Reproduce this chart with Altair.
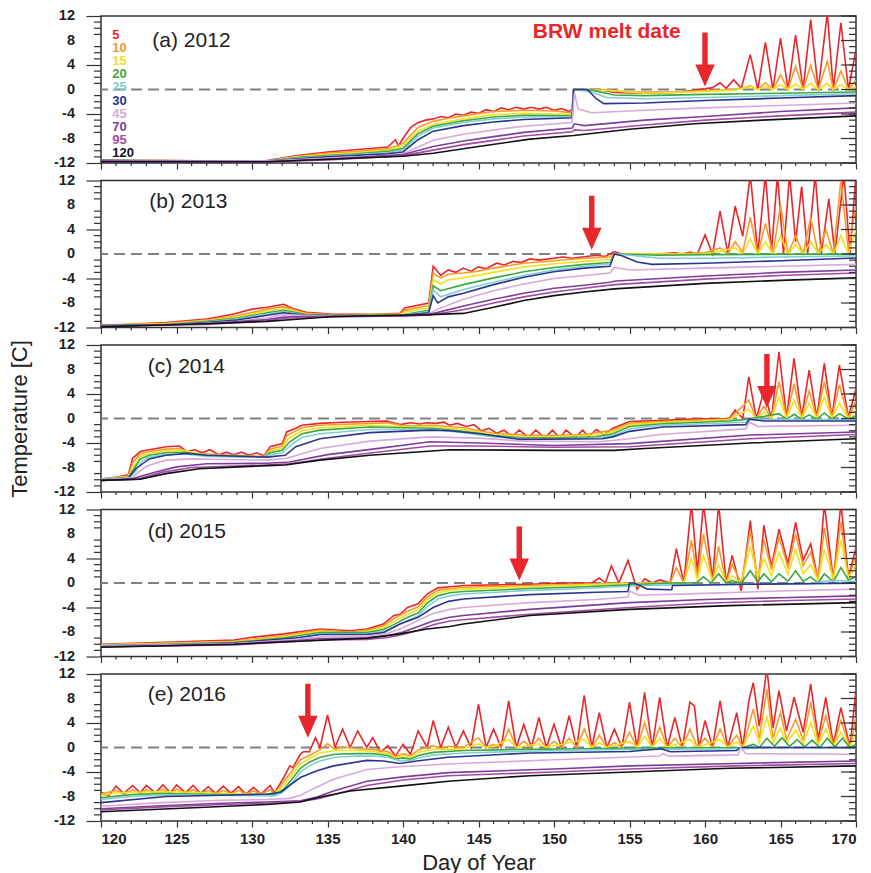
import altair as alt
import pandas as pd

DEPTHS = ["5", "10", "15", "20", "25", "30", "45", "70", "95", "120"]
COLORS = ["#e8262b", "#f89a2c", "#f2e11e", "#3aa93f", "#7dcfd4",
          "#2b3590", "#d9a8dc", "#7b3f9b", "#a44aa5", "#111111"]
PANEL_LABELS = ["(a) 2012", "(b) 2013", "(c) 2014", "(d) 2015", "(e) 2016"]
MELT_DAY = [160.0, 152.5, 164.1, 147.7, 133.7]
MELT_TIP = [0.5, 0.7, 1.7, 0.4, 1.6]
DAY_TICKS = list(range(120, 171))
TEMP_TICKS = list(range(-12, 13))

# ---------------- 2012 ----------------
A05 = [(120,-11.5),(122,-11.6),(125,-11.6),(128,-11.7),(131,-11.6),(132,-11.2),(133,-10.8),(134,-10.5),(135,-10.2),(136,-10.0),(137,-9.8),(138,-9.6),(139,-9.4),(139.5,-8.2),(139.7,-9.2),(140,-8.0),(140.5,-6.2),(141,-5.4),(141.5,-5.0),(142,-4.8),(142.5,-4.4),(143,-4.6),(143.5,-4.0),(144,-4.2),(144.5,-3.7),(145,-3.9),(145.5,-3.3),(146,-3.6),(146.5,-3.0),(147,-3.3),(147.5,-2.9),(148,-3.2),(148.5,-2.9),(149,-3.2),(149.5,-2.9),(150,-3.4),(150.5,-3.1),(151,-3.6),(151.2,-3.2),(151.3,0),(153,0),(154,-0.5),(156,-0.6),(158,-0.5),(159,-0.2),(160,0.1),(160.5,0.3),(161,1.1),(161.4,0.2),(161.9,1.6),(162.4,0.2),(163,5.7),(163.5,0),(164,7.7),(164.5,0),(165,8.4),(165.5,0),(166,8.9),(166.5,0),(167,11.4),(167.5,0),(168.1,12.5),(168.5,0),(169,10.9),(169.5,0),(170,6.5)]
A10 = [(120,-11.6),(131,-11.7),(133,-10.9),(135,-10.4),(137,-10.1),(139,-9.7),(140,-8.8),(141,-6.2),(142,-5.2),(143,-4.7),(144,-4.3),(146,-3.6),(148,-3.4),(150,-3.5),(151.2,-3.8),(151.3,0),(153.5,-0.1),(155,-0.4),(158,-0.4),(160,-0.2),(162,0),(163,0.6),(163.5,0),(164,1.1),(164.5,0),(165,2.4),(165.5,0),(166,3.8),(166.5,0),(167,4.0),(167.5,0),(168.1,4.6),(168.5,0),(169,3.0),(169.5,0),(170,1.5)]
A15 = [(120,-11.6),(131,-11.7),(133,-11.0),(135,-10.6),(137,-10.3),(139,-9.9),(140,-9.2),(141,-6.8),(142,-5.7),(144,-4.8),(146,-4.1),(148,-3.9),(150,-4.0),(151.2,-4.05),(151.3,0),(154,-0.2),(156,-0.6),(158,-0.5),(160,-0.3),(162,-0.1),(163,0.5),(163.5,0),(164,0.5),(164.5,0),(165,0.8),(165.5,0),(166,0.9),(166.5,0),(167,1.0),(167.5,0),(168.1,1.0),(168.5,0),(169,0.8),(169.5,0),(170,0.4)]
A20 = [(120,-11.6),(131,-11.7),(133,-11.1),(135,-10.8),(137,-10.5),(139,-10.1),(140,-9.6),(141,-7.2),(142,-6.0),(144,-5.1),(146,-4.5),(148,-4.2),(151.2,-4.3),(151.3,0),(152.5,-0.1),(154,-0.9),(156,-1.0),(160,-0.8),(165,-0.6),(170,-0.4)]
A25 = [(120,-11.6),(131,-11.7),(133,-11.2),(135,-10.9),(139,-10.3),(140,-9.9),(141,-7.6),(142,-6.3),(144,-5.4),(146,-4.8),(148,-4.5),(151.2,-4.4),(151.3,0),(152.3,-0.3),(153.5,-1.3),(156,-1.5),(160,-1.3),(165,-1.0),(170,-0.7)]
A30 = [(120,-11.6),(131,-11.7),(133,-11.3),(135,-11.0),(139,-10.5),(140,-10.2),(141,-8.2),(142,-6.8),(144,-5.9),(146,-5.3),(148,-4.9),(151.2,-4.6),(151.3,0),(152.2,0),(152.8,-1.5),(153.3,-2.3),(156,-2.2),(160,-1.8),(165,-1.4),(170,-1.0)]
A45 = [(120,-11.7),(131,-11.7),(135,-11.2),(139,-10.8),(140,-10.5),(141,-9.4),(142,-8.3),(144,-7.3),(146,-6.6),(148,-6.0),(151.2,-5.4),(151.35,-0.5),(151.6,-3.2),(152.5,-3.8),(156,-3.4),(160,-3.0),(165,-2.6),(170,-2.2)]
A70 = [(120,-11.7),(131,-11.8),(135,-11.4),(140,-10.6),(142,-9.3),(144,-8.4),(146,-7.7),(148,-7.0),(151.2,-6.3),(151.35,-5.6),(152,-5.9),(156,-5.0),(160,-4.4),(165,-3.6),(170,-3.0)]
A95 = [(120,-11.8),(131,-11.8),(135,-11.5),(140,-10.8),(142,-9.9),(144,-9.0),(146,-8.3),(148,-7.6),(151.2,-6.9),(151.35,-6.6),(152,-6.7),(156,-5.8),(160,-5.0),(165,-4.3),(170,-3.7)]
A120 = [(120,-11.8),(131,-11.8),(135,-11.4),(140,-10.9),(142,-10.4),(145,-9.3),(148.4,-8.1),(151.3,-7.5),(155,-6.5),(159.3,-5.6),(163.8,-5.0),(170,-4.3)]

# ---------------- 2013 ----------------
B05 = [(120,-11.5),(121,-11.6),(122.5,-11.4),(124.3,-11.2),(127,-10.6),(128.8,-9.8),(130,-9.0),(131,-8.7),(132.1,-8.2),(132.7,-8.9),(133.6,-9.5),(135.2,-9.8),(138,-9.9),(139.8,-9.7),(140.1,-8.8),(141.7,-8.0),(142,-2.0),(142.5,-3.5),(143,-2.6),(143.5,-3.0),(144,-2.3),(144.5,-2.8),(145,-2.1),(145.5,-2.4),(146.2,-1.5),(146.7,-1.8),(147.3,-1.2),(147.8,-1.4),(148.4,-0.8),(149,-1.0),(150.6,-0.5),(151.2,-0.7),(152.8,-0.2),(153.4,-0.4),(154,0.4),(154.5,0),(157,0),(158,0.2),(158.5,0),(159,0.3),(159.5,0),(160,3.1),(160.5,0),(161,7.0),(161.5,0.2),(162,7.8),(162.5,2.9),(163,13),(163.5,0),(164,13),(164.4,0.3),(164.8,13),(165.2,0),(165.6,13),(166,2),(166.4,11),(166.8,0),(167.3,13),(167.7,0),(168.2,9),(168.6,0),(169.2,13),(169.6,0),(170,13)]
B10 = [(120,-11.6),(124.3,-11.3),(127,-10.8),(129,-10.1),(131,-9.0),(132.1,-8.6),(133.6,-9.7),(135.2,-9.9),(139.8,-9.8),(140.1,-9.2),(141.7,-8.4),(142,-3.2),(142.5,-3.9),(143,-3.3),(144,-3.1),(145,-2.8),(146,-2.3),(148,-1.5),(150,-1.1),(152,-0.7),(153.7,-0.5),(154,0),(158,0),(160,0.2),(161,1.0),(161.5,0),(162,2.0),(162.5,0.3),(163,6.0),(163.5,0),(164,5.0),(164.5,0),(165,8.0),(165.5,0),(166,3.0),(166.5,0),(167,6.0),(167.5,0),(168,4.0),(168.5,0),(169,12.0),(169.5,0.5),(170,8.0)]
B15 = [(120,-11.6),(124.3,-11.4),(127,-10.9),(129,-10.3),(131,-9.3),(132.1,-8.9),(133.6,-9.8),(135.2,-10.0),(139.8,-9.9),(140.1,-9.5),(141.7,-8.8),(142,-4.2),(142.5,-4.9),(143,-4.2),(144,-3.9),(146,-3.0),(148,-2.1),(150,-1.6),(152,-1.2),(153.7,-0.9),(154,0),(160,0),(162,1.0),(162.5,0),(163,2.5),(163.5,0),(164,2.0),(164.5,0),(165,3.0),(165.5,0),(166,1.5),(166.5,0),(167,2.0),(167.5,0),(168,1.5),(168.5,0),(169,3.0),(169.5,0),(170,4.0)]
B20 = [(120,-11.7),(124.3,-11.5),(127,-11.0),(129,-10.5),(131,-9.6),(132.1,-9.2),(133.6,-9.9),(135.2,-10.0),(139.8,-10.0),(141.7,-9.2),(142,-5.2),(142.5,-6.0),(144,-5.0),(146,-3.9),(148,-2.9),(150,-2.2),(152,-1.7),(153.7,-1.4),(154,0),(157,-0.2),(160,-0.1),(170,0)]
B25 = [(120,-11.7),(124.3,-11.5),(127,-11.1),(129,-10.6),(131,-9.8),(132.1,-9.4),(133.6,-10.0),(139.8,-10.1),(141.7,-9.4),(142,-5.9),(142.5,-7.0),(144,-5.8),(146,-4.6),(148,-3.5),(150,-2.6),(152,-2.0),(153.7,-1.6),(154,0),(155,-0.2),(157,-0.7),(160,-0.7),(165,-0.5),(170,-0.3)]
B30 = [(120,-11.7),(124.3,-11.6),(127,-11.2),(129,-10.8),(131,-10.0),(132.1,-9.6),(133.6,-10.0),(139.8,-10.1),(141.7,-9.6),(142,-6.8),(142.3,-8.0),(143,-7.0),(144,-6.4),(146,-5.0),(148,-3.8),(150,-2.9),(152,-2.3),(153.7,-2.0),(154,0),(154.5,-0.3),(155.5,-1.3),(156.5,-1.7),(160,-1.5),(165,-1.1),(170,-0.65)]
B45 = [(120,-11.8),(124.3,-11.6),(127,-11.3),(129,-11.0),(131,-10.4),(132.1,-9.9),(134,-10.1),(139.8,-10.1),(141.7,-9.8),(142.3,-9.0),(144,-7.4),(146,-6.0),(148,-4.9),(150,-4.0),(152,-3.5),(153.7,-3.1),(154,-2.2),(155,-2.6),(160,-2.3),(165,-2.0),(170,-1.7)]
B70 = [(120,-11.8),(127,-11.4),(131,-10.7),(132.1,-10.3),(134,-10.2),(139.8,-10.1),(141.7,-9.9),(144,-8.5),(146,-7.4),(148,-6.4),(150,-5.6),(152,-5.1),(153.7,-4.6),(154.1,-4.4),(160,-3.6),(165,-3.0),(170,-2.6)]
B95 = [(120,-11.8),(127,-11.5),(131,-10.9),(132.1,-10.5),(134,-10.3),(139.8,-10.1),(141.7,-10.0),(144,-9.1),(146,-8.0),(148,-7.0),(150,-6.2),(152,-5.6),(154,-5.0),(160,-4.1),(165,-3.5),(170,-3.1)]
B120 = [(120,-11.9),(124,-11.6),(127,-11.4),(131,-11.0),(133.2,-10.6),(135.4,-10.2),(139.8,-10.0),(141.8,-9.9),(144,-9.7),(146,-8.7),(148,-7.6),(150,-6.8),(152,-6.2),(154,-5.7),(160,-4.8),(165,-4.3),(170,-3.9)]

# ---------------- 2014 ----------------
C05 = [(120,-9.9),(121,-9.6),(121.8,-9.2),(122.1,-6.5),(122.6,-5.4),(123.2,-5.1),(124.3,-4.6),(125.2,-4.5),(125.7,-5.4),(126.2,-5.1),(126.7,-5.6),(127.2,-5.1),(127.8,-5.9),(128.3,-5.5),(128.8,-5.9),(129.3,-5.5),(129.8,-6.0),(130.3,-5.6),(130.8,-6.1),(131.2,-4.6),(132,-4.1),(132.3,-2.2),(132.9,-1.6),(133.3,-1.1),(134.5,-0.8),(136,-0.6),(137.8,-0.5),(138.9,-0.4),(139.8,-1.0),(140.5,-0.7),(141.1,-0.9),(141.6,-0.7),(142.2,-0.8),(142.7,-0.6),(143.1,-1.1),(143.6,-0.8),(144.2,-1.3),(144.7,-1.0),(145.2,-2.0),(145.7,-1.6),(146.2,-2.4),(146.7,-1.9),(147.2,-3.0),(147.7,-1.9),(148.3,-3.1),(148.8,-1.9),(149.4,-3.2),(149.9,-1.9),(150.4,-3.2),(150.8,-1.9),(151.4,-3.1),(151.9,-1.9),(152.3,-3.0),(152.8,-1.8),(153.3,-2.6),(153.9,-1.6),(155,-0.5),(157.2,-0.3),(159,-0.1),(161.6,0),(162,1.4),(162.5,0),(162.9,6.8),(163.4,0),(163.9,4.5),(164.4,0),(164.9,10.9),(165.4,0.2),(165.9,9.8),(166.4,0.2),(166.9,7.9),(167.4,0.2),(167.9,9.0),(168.4,0.2),(168.9,8.7),(169.5,0.2),(170,4.9)]
C10 = [(120,-9.9),(121.8,-9.4),(122.1,-7.2),(122.6,-5.8),(123.2,-5.4),(124.3,-5.0),(125.2,-4.9),(125.7,-5.6),(127,-5.8),(128.8,-6.0),(130.8,-6.2),(131.2,-5.0),(132,-4.5),(132.3,-2.8),(133.3,-1.5),(134.5,-1.1),(137.8,-0.8),(139,-0.7),(140,-1.2),(142,-1.1),(144,-1.5),(146,-2.4),(148,-2.7),(150,-2.8),(152,-2.6),(153.9,-1.9),(155,-0.8),(157,-0.5),(161.6,-0.1),(162.9,3.0),(163.4,0),(163.9,2.0),(164.4,0),(164.9,6.0),(165.4,0.1),(165.9,5.7),(166.4,0.1),(166.9,4.5),(167.4,0.1),(167.9,6.0),(168.4,0.1),(168.9,5.5),(169.5,0.1),(170,3.0)]
C15 = [(120,-9.9),(121.8,-9.5),(122.2,-7.8),(122.6,-6.2),(123.2,-5.7),(124.3,-5.3),(125.5,-5.2),(127,-6.0),(130.8,-6.3),(131.2,-5.3),(132,-4.9),(132.4,-3.3),(133.3,-2.0),(134.5,-1.5),(137.8,-1.1),(140,-1.3),(142,-1.3),(144,-1.8),(146,-2.6),(148,-3.0),(150,-3.0),(152.8,-2.7),(153.9,-2.2),(155,-1.0),(157,-0.7),(161.6,-0.2),(162.9,1.5),(163.4,0),(163.9,1.0),(164.4,0),(164.9,3.5),(165.4,0),(165.9,3.0),(166.4,0),(166.9,2.5),(167.4,0),(167.9,3.5),(168.4,0),(168.9,2.5),(169.5,0),(170,1.5)]
C20 = [(120,-9.9),(121.8,-9.6),(122.2,-8.2),(122.6,-6.6),(123.2,-6.0),(124.3,-5.6),(125.5,-5.5),(127,-6.1),(130.8,-6.3),(131.2,-5.6),(132,-5.2),(132.5,-3.8),(133.3,-2.5),(134.5,-1.9),(137.8,-1.4),(140,-1.5),(142,-1.6),(144,-2.1),(146,-2.8),(148,-3.2),(150,-3.2),(152.8,-3.0),(153.9,-2.5),(155,-1.3),(157,-0.9),(161.6,-0.4),(162.9,-0.1),(164.9,0.8),(165.4,-0.1),(165.9,0.7),(166.4,-0.1),(166.9,0.6),(167.4,-0.1),(167.9,0.9),(168.4,-0.1),(168.9,0.8),(169.5,-0.1),(170,0.5)]
C25 = [(120,-9.9),(121.8,-9.7),(122.3,-8.6),(122.7,-7.0),(123.2,-6.3),(124.3,-5.9),(125.5,-5.8),(127,-6.2),(130.8,-6.3),(131.2,-5.9),(132,-5.6),(132.6,-4.3),(133.3,-3.1),(134.5,-2.5),(137.8,-1.8),(140,-1.8),(142,-1.8),(144,-2.3),(146,-3.0),(148,-3.3),(150,-3.3),(152.8,-3.2),(153.9,-2.8),(155,-1.7),(157,-1.1),(162.7,-0.6),(163,-0.1),(170,-0.2)]
C30 = [(120,-10.0),(121.8,-9.8),(122.3,-8.2),(123.2,-6.6),(124.3,-6.0),(125.7,-5.7),(127,-6.0),(131,-6.3),(132.2,-6.0),(132.9,-4.6),(134.5,-3.3),(137.8,-2.3),(141.8,-1.9),(143.1,-2.0),(145.1,-2.5),(147.7,-3.4),(153.2,-3.3),(153.9,-3.0),(155,-2.1),(157.2,-1.4),(162.7,-1.0),(162.95,-0.1),(163.9,-0.4),(170,-0.4)]
C45 = [(120,-10.0),(122,-9.7),(123,-7.8),(124.3,-6.8),(126,-6.6),(128,-6.7),(131,-6.8),(132.3,-6.5),(134.5,-4.9),(137.8,-3.7),(141.8,-3.0),(145,-3.2),(148,-3.7),(153,-3.8),(155,-3.3),(157,-2.6),(162.7,-1.7),(162.95,-0.6),(163.5,-1.3),(170,-1.1)]
C70 = [(120,-10.1),(122,-9.9),(123.5,-8.8),(125,-7.9),(127,-7.4),(131,-7.3),(132.5,-7.1),(135,-5.9),(138,-5.0),(141.8,-3.8),(145,-4.0),(150,-4.4),(155,-4.1),(163,-2.7),(170,-2.2)]
C95 = [(120,-10.1),(122.5,-9.9),(124,-8.8),(126,-8.0),(131,-7.6),(132.5,-7.4),(135,-6.5),(138,-5.6),(141.8,-4.5),(145,-4.5),(150,-4.7),(155,-4.6),(163,-3.3),(170,-2.6)]
C120 = [(120,-10.1),(122.6,-9.9),(124.3,-9.0),(126.5,-8.2),(131,-7.7),(132.2,-7.6),(134.5,-6.8),(137.8,-6.0),(143.1,-5.1),(150,-5.2),(154,-5.2),(156,-4.9),(163,-4.0),(170,-3.3)]

# ---------------- 2015 ----------------
D05 = [(120,-10.0),(124.3,-9.7),(128.8,-9.3),(129.9,-8.9),(132.1,-8.3),(134.5,-7.5),(136.5,-7.8),(137.6,-7.5),(138.7,-6.7),(139.4,-5.3),(139.8,-5.1),(140.3,-4.0),(141,-3.4),(141.6,-1.8),(142.3,-0.8),(143.1,-0.6),(144,-0.4),(148.4,-0.2),(150.6,0),(152.5,0),(153,0.8),(153.4,0),(153.8,2.8),(154.3,0),(154.9,3.7),(155.5,-1.0),(156,0.7),(156.5,0),(157,0.5),(157.7,0),(158.1,5.6),(158.6,0),(159.1,13),(159.5,1.7),(159.9,13),(160.5,0.5),(160.9,13),(161.4,0.1),(161.8,4.5),(162.4,-1.3),(163,10.2),(163.5,-1.0),(163.9,9.4),(164.4,2.6),(164.9,8.8),(165.5,3.1),(166,9.9),(166.5,3.7),(167,6.4),(167.5,0.4),(167.9,13),(168.5,0.4),(169,13),(169.5,0.9),(170,5.8)]
D10 = [(120,-10.1),(124.3,-9.8),(128.8,-9.5),(132.1,-8.6),(134.5,-7.7),(136.5,-8.0),(137.6,-7.7),(138.7,-7.0),(139.4,-5.8),(140.3,-4.6),(141,-3.9),(141.6,-2.3),(142.3,-1.2),(143.1,-0.9),(144,-0.7),(148.4,-0.4),(152,-0.2),(155,0),(157.7,0),(158.1,2.5),(158.6,0),(159.1,7),(159.5,1),(159.9,8),(160.5,0.3),(160.9,6),(161.4,0),(161.8,3),(162.4,0),(163,8.5),(163.5,0.5),(163.9,7),(164.4,2.2),(164.9,7.5),(165.5,2.5),(166,8),(166.5,2.8),(167,5),(167.5,0.5),(167.9,9),(168.5,0.5),(169,10),(169.5,0.8),(170,4.5)]
D15 = [(120,-10.1),(124.3,-9.9),(128.8,-9.6),(132.1,-8.8),(134.5,-7.9),(136.5,-8.2),(137.6,-7.9),(138.7,-7.3),(139.4,-6.3),(140.3,-5.1),(141,-4.4),(141.6,-2.8),(142.3,-1.6),(143.1,-1.2),(144,-1.0),(148.4,-0.6),(152,-0.3),(155,-0.1),(158.6,0),(159.1,4),(159.5,0.5),(159.9,4.5),(160.5,0.3),(160.9,3),(161.4,0),(161.8,1.2),(162.4,0),(163,6),(163.5,0.8),(163.9,4),(164.4,1.2),(164.9,5),(165.5,1.4),(166,5.5),(166.5,1.5),(167,3),(167.5,0.4),(167.9,5.5),(168.5,0.6),(169,7),(169.5,0.8),(170,3)]
D20 = [(120,-10.2),(124.3,-10.0),(128.8,-9.7),(132.1,-9.0),(134.5,-8.1),(137.6,-8.1),(138.7,-7.6),(139.4,-6.8),(140.3,-5.6),(141,-4.9),(141.6,-3.3),(142.3,-2.1),(143.1,-1.6),(144,-1.4),(148.4,-0.9),(152,-0.6),(155,-0.3),(157.8,0),(159.4,0),(159.9,1.0),(160.4,0),(160.9,1.5),(161.4,0),(161.8,0.4),(162.4,0),(163,2.0),(163.5,0.2),(163.9,1.5),(164.4,0.2),(164.9,1.5),(165.5,0.3),(166,2.0),(166.5,0.3),(167,1.0),(167.5,0),(167.9,1.5),(168.5,0.2),(169,2.5),(169.5,0.5),(170,1.0)]
D25 = [(120,-10.2),(124.3,-10.0),(128.8,-9.8),(132.1,-9.2),(134.5,-8.3),(137.6,-8.3),(138.7,-7.9),(139.4,-7.2),(140.3,-6.1),(141,-5.4),(141.6,-3.9),(142.3,-2.6),(143.1,-2.1),(144,-1.8),(148.4,-1.2),(152,-0.9),(155,-0.5),(157.8,-0.3),(163,-0.2),(167,-0.1),(168,0.3),(169,0.4),(170,0.2)]
D30 = [(120,-10.3),(124.3,-10.1),(128.8,-9.8),(133.2,-8.9),(134.5,-8.4),(137.6,-8.4),(138.7,-8.1),(139.8,-6.7),(141,-5.6),(142,-4.0),(143,-3.0),(144,-2.6),(148.4,-1.9),(152.8,-1.5),(154.9,-1.4),(155,0),(155.3,0),(156.2,-1.0),(157.8,-1.1),(157.85,-0.4),(163,-0.2),(170,-0.05)]
D45 = [(120,-10.3),(128.8,-9.9),(133,-9.2),(134.5,-8.8),(137.6,-8.7),(139,-8.2),(140,-7.3),(141,-6.1),(142,-5.0),(143.1,-4.3),(144,-4.0),(148.4,-3.2),(152.8,-2.7),(154.9,-2.3),(155,-1.3),(155.6,-2.0),(160,-1.7),(165,-1.3),(170,-1.0)]
D70 = [(120,-10.4),(128.8,-10.0),(133,-9.4),(134.5,-9.1),(137.6,-9.0),(139,-8.6),(140,-8.0),(141,-7.1),(142,-6.2),(143.1,-5.6),(144,-5.3),(148.4,-4.3),(155,-3.2),(160,-2.7),(165,-2.4),(170,-2.1)]
D95 = [(120,-10.4),(128.8,-10.1),(133,-9.5),(134.5,-9.3),(137.6,-9.2),(139,-8.9),(140,-8.4),(141,-7.7),(142,-6.8),(143.1,-6.2),(144,-6.0),(148.4,-5.1),(155,-4.0),(160,-3.3),(165,-2.9),(170,-2.6)]
D120 = [(120,-10.5),(128.8,-10.0),(133.2,-9.5),(137.6,-9.0),(139.8,-8.3),(141.6,-7.5),(143.1,-7.1),(144,-6.7),(148.4,-5.3),(155,-4.3),(161.6,-3.7),(170,-3.2)]

# ---------------- 2016 ----------------
E05 = [(120,-7.3),(120.5,-7.9),(121,-6.3),(121.5,-7.5),(122.1,-6.2),(122.6,-7.4),(123,-6.2),(123.6,-7.4),(124.1,-6.1),(124.6,-7.4),(125,-6.1),(125.6,-7.4),(126.1,-6.2),(126.6,-7.5),(127.1,-6.4),(127.6,-7.5),(128.1,-6.3),(128.6,-7.5),(129.1,-6.4),(129.6,-7.6),(130.1,-6.5),(130.6,-7.6),(131.2,-6.2),(131.5,-7.4),(132.1,-4.9),(132.5,-3.0),(132.7,-3.3),(133.2,-1.1),(133.4,-0.7),(133.8,-0.7),(134.2,1.6),(134.5,0),(135,5.3),(135.5,0),(136,3.0),(136.5,0),(137,2.7),(137.6,0),(138,1.6),(138.5,-0.8),(139,0.3),(139.5,-1.4),(140,0.5),(140.5,-1.1),(141,2.7),(141.6,0),(142,4.4),(142.5,0),(143,3.3),(143.5,0),(144,2.7),(144.5,0),(145,7.1),(145.5,0),(146,3.0),(146.5,0),(147,7.6),(147.5,0),(148,3.8),(148.5,0),(149,4.9),(149.5,0),(150,3.8),(150.5,0),(151,5.2),(151.5,0),(152,8.5),(152.5,0),(153,5.7),(153.5,0),(154,3.0),(154.5,0),(155,7.4),(155.5,0),(156,9.0),(156.5,0),(157,8.2),(157.5,0),(158,4.9),(158.5,0),(159,7.4),(159.3,6.8),(159.6,0),(160,4.4),(160.5,0),(161,7.6),(161.5,0),(162.1,5.7),(162.5,0),(162.9,7.6),(163.2,10.6),(163.6,3.5),(164.1,13),(164.5,3.2),(164.9,9.3),(165.4,2.7),(165.9,8.2),(166.5,2.5),(167,10.4),(167.5,1.4),(168,8.2),(168.5,0.5),(169,6.5),(169.6,0),(170,9.5)]
E10 = [(120,-7.6),(121,-7.0),(121.5,-7.6),(122.1,-6.9),(122.6,-7.5),(123,-6.9),(123.6,-7.5),(124.1,-6.8),(124.6,-7.5),(125,-6.8),(125.6,-7.5),(126.1,-6.9),(126.6,-7.5),(127.1,-7.0),(127.6,-7.6),(128.1,-7.0),(128.6,-7.6),(129.1,-7.0),(129.6,-7.6),(130.1,-7.1),(130.6,-7.6),(131.2,-6.9),(131.5,-7.5),(132.1,-5.6),(132.6,-4.0),(133.2,-2.0),(133.8,-1.3),(134.5,-0.4),(135,0.6),(135.5,-0.3),(136,0.1),(137,-0.2),(138,-0.3),(139,-0.7),(139.5,-1.5),(140,-1.0),(140.5,-1.4),(141,-0.4),(142,0.3),(142.5,-0.2),(143,0.2),(144,0),(145,1.6),(145.5,0),(146,0.5),(146.5,0),(147,3.0),(147.5,0),(148,1.0),(148.5,0),(149,1.5),(149.5,0),(150,1.0),(150.5,0),(151,1.5),(151.5,0),(152,3.0),(152.5,0),(153,2.0),(153.5,0),(154,0.8),(154.5,0),(155,2.5),(155.5,0),(156,4.0),(156.5,0),(157,3.3),(157.5,0),(158,1.5),(158.5,0),(159,3.0),(159.5,0),(160,1.5),(160.5,0),(161,3.0),(161.5,0),(162.1,2.0),(162.5,0),(163.2,6.3),(163.6,1.5),(164.1,9.5),(164.5,1.5),(165,5.7),(165.4,1.3),(166,4.6),(166.5,1.2),(167,7.4),(167.5,0.8),(168,5.2),(168.5,0.3),(169,4.4),(169.6,0),(170,5.0)]
E15 = [(120,-7.9),(121,-7.4),(122,-7.3),(124,-7.2),(126,-7.3),(128,-7.5),(130,-7.6),(131.5,-7.6),(132.1,-6.2),(132.6,-4.6),(133.2,-2.7),(133.8,-1.8),(134.5,-0.9),(135.5,-0.5),(137,-0.5),(138,-0.6),(139,-1.0),(139.5,-1.7),(140,-1.3),(140.5,-1.6),(141,-0.8),(142,-0.3),(143,-0.3),(144,-0.2),(145,0.6),(145.5,0),(146,0.2),(147,1.3),(147.5,0),(149,0.6),(149.5,0),(152,1.3),(152.5,0),(153,0.8),(153.5,0),(155,1.0),(155.5,0),(156,1.8),(156.5,0),(157,1.5),(157.5,0),(159,1.3),(159.5,0),(161,1.3),(161.5,0),(162.1,0.9),(162.5,0),(163.2,3.5),(163.6,0.8),(164.1,5.0),(164.5,0.8),(165,3.2),(165.4,0.7),(166,2.8),(166.5,0.6),(167,4.0),(167.5,0.4),(168,3.0),(168.5,0.2),(169,2.5),(169.6,0),(170,2.5)]
E20 = [(120,-8.2),(122,-7.7),(124,-7.5),(126,-7.6),(128,-7.7),(130,-7.8),(131.5,-7.7),(132.1,-6.8),(132.6,-5.3),(133.2,-3.4),(133.8,-2.4),(134.5,-1.6),(135.5,-1.1),(137,-1.0),(138,-1.0),(139,-1.3),(139.5,-1.9),(140,-1.7),(140.5,-1.9),(141,-1.3),(142,-0.8),(144,-0.5),(148,-0.3),(152,-0.2),(156,-0.1),(162.5,0),(163.2,0.5),(163.6,0),(164.1,1.5),(164.6,0.2),(165.1,1.6),(165.6,0.2),(166.1,1.3),(166.6,0.1),(167.1,1.2),(167.6,0),(168.1,1.5),(168.6,0.1),(169.1,1.5),(169.6,0),(170,0.5)]
E25 = [(120,-8.5),(122,-8.0),(124,-7.8),(128,-7.8),(131.5,-7.9),(132.1,-7.2),(132.6,-5.9),(133.2,-4.0),(133.8,-3.0),(134.5,-2.2),(135.5,-1.6),(137,-1.4),(138,-1.4),(139,-1.6),(139.8,-2.2),(140.5,-2.1),(141,-1.7),(142,-1.2),(144,-0.9),(148,-0.6),(152,-0.4),(156,-0.3),(162.5,-0.2),(165,0),(170,-0.1)]
E30 = [(120,-9.0),(124.3,-8.0),(128,-7.8),(131,-7.6),(131.9,-7.3),(132.5,-6.2),(133.2,-4.9),(134.3,-3.8),(135.4,-3.0),(137.6,-2.1),(138.7,-2.2),(139.8,-2.6),(140.9,-2.2),(143,-1.6),(148.4,-0.9),(155,-0.65),(157.1,-0.2),(157.7,-0.7),(162.1,-0.5),(162.3,0),(170,0)]
E45 = [(120,-9.6),(124,-9.0),(128,-8.6),(131,-8.5),(132.5,-8.3),(133.2,-7.8),(134,-6.8),(135.4,-5.2),(137.6,-3.6),(140,-3.1),(143,-2.7),(150,-2.0),(157,-1.4),(157.2,-1.0),(157.6,-1.4),(162.2,-1.2),(162.35,0),(162.7,-1.0),(170,-1.1)]
E70 = [(120,-10.0),(124,-9.5),(128,-9.1),(131,-8.9),(133.2,-8.7),(134.3,-8.1),(135.4,-7.1),(137.6,-5.5),(140,-4.8),(143,-4.1),(150,-3.5),(155,-3.0),(162,-2.6),(170,-2.2)]
E95 = [(120,-10.2),(124,-9.7),(128,-9.3),(131,-9.1),(133.2,-8.8),(134.3,-8.4),(135.4,-7.7),(137.6,-6.2),(140,-5.3),(143,-4.6),(150,-4.0),(155,-3.5),(162,-3.0),(170,-2.6)]
E120 = [(120,-10.5),(126.5,-9.8),(131,-9.3),(133.2,-8.9),(134.3,-8.2),(136.5,-7.1),(139.8,-6.3),(143,-5.5),(148.4,-4.6),(155,-4.0),(161.6,-3.4),(170,-3.0)]

PANELS = [
    [A05, A10, A15, A20, A25, A30, A45, A70, A95, A120],
    [B05, B10, B15, B20, B25, B30, B45, B70, B95, B120],
    [C05, C10, C15, C20, C25, C30, C45, C70, C95, C120],
    [D05, D10, D15, D20, D25, D30, D45, D70, D95, D120],
    [E05, E10, E15, E20, E25, E30, E45, E70, E95, E120],
]

FONT = "Liberation Sans"
RED = "#e8262b"
INK = "#333333"
ARROW = "M-0.27,-5.4L0.27,-5.4L0.27,-2.2L0.97,-2.2L0,0L-0.97,-2.2L-0.27,-2.2Z"
LABEL_POS = [(123.4, 8.0), (123.2, 8.5), (123.1, 8.4), (123.1, 8.3), (123.1, 8.5)]
LEGEND_X = 120.75
LEGEND_TOP = 8.9
LEGEND_STEP = 2.14
W, H = 755, 147

DAY_MAJOR = [d for d in DAY_TICKS if d % 5 == 0]
DAY_MINOR = [d for d in DAY_TICKS if d % 5 != 0]
TEMP_MAJOR = [t for t in TEMP_TICKS if t % 4 == 0]
TEMP_MINOR = [t for t in TEMP_TICKS if t % 4 != 0]


def frame(series):
    rows = []
    for depth, pts in zip(DEPTHS, series):
        for d, t in pts:
            rows.append({"day": d, "temp": t, "depth": depth})
    return pd.DataFrame(rows)


def x_axis(bottom):
    return alt.Axis(
        values=DAY_MAJOR,
        labels=bottom,
        labelOverlap=False,
        tickSize=6,
        labelFontSize=15,
        labelPadding=4,
        title="Day of Year" if bottom else None,
        titleFontSize=22,
        titlePadding=6,
    )


def y_axis(with_title):
    # tick labels of the y axis are drawn by a text layer on the same scale
    return alt.Axis(
        values=TEMP_MAJOR,
        labels=False,
        tickSize=15,
        title="Temperature [C]" if with_title else None,
        titleFontSize=22,
        titlePadding=54,
    )


def panel(k):
    df = frame(PANELS[k])
    bottom = k == 4
    xs = alt.Scale(domain=[120, 170], nice=False, zero=False)
    ys = alt.Scale(domain=[-12, 12], nice=False, zero=False)
    base = alt.Chart(df).encode(
        x=alt.X("day:Q", scale=xs, axis=x_axis(bottom)),
        y=alt.Y("temp:Q", scale=ys, axis=y_axis(k == 2)),
    )
    one = pd.DataFrame({"k": [0]})
    ymin = pd.DataFrame({"t": TEMP_MINOR})
    yall = pd.DataFrame({"t": TEMP_TICKS})
    ymaj = pd.DataFrame({"t": TEMP_MAJOR, "lab": [str(t) for t in TEMP_MAJOR]})
    xmin = pd.DataFrame({"d": DAY_MINOR})

    layers = []
    for depth, col in zip(DEPTHS, COLORS):
        layers.append(
            base.transform_filter(alt.datum.depth == depth).mark_line(
                color=col, strokeWidth=1.6, clip=True
            )
        )
    layers.insert(
        0,
        alt.Chart(one).mark_rule(color="#808080", strokeDash=[11, 6], strokeWidth=1.8)
        .encode(y=alt.Y(datum=0)),
    )
    # y tick labels
    layers.append(
        alt.Chart(ymaj).mark_text(
            align="right", baseline="middle", font=FONT, fontWeight="bold",
            fontSize=14.5, color="#222"
        ).encode(y=alt.Y("t:Q"), x=alt.value(-26), text="lab:N")
    )
    # minor ticks (left outward, right inward, bottom outward)
    layers.append(
        alt.Chart(ymin).mark_rule(color=INK, strokeWidth=1.2)
        .encode(y=alt.Y("t:Q"), x=alt.value(-7), x2=alt.value(0))
    )
    layers.append(
        alt.Chart(yall).mark_rule(color=INK, strokeWidth=1.2)
        .encode(y=alt.Y("t:Q"), x=alt.value(W - 7), x2=alt.value(W))
    )
    layers.append(
        alt.Chart(ymaj).mark_rule(color=INK, strokeWidth=1.2)
        .encode(y=alt.Y("t:Q"), x=alt.value(W - 15), x2=alt.value(W))
    )
    layers.append(
        alt.Chart(xmin).mark_rule(color=INK, strokeWidth=1.2)
        .encode(x=alt.X("d:Q"), y=alt.value(H), y2=alt.value(H + 3))
    )
    lx, ly = LABEL_POS[k]
    layers.append(
        alt.Chart(one).mark_text(
            text=PANEL_LABELS[k], align="left", baseline="middle",
            fontSize=21, font=FONT, color="#222"
        ).encode(x=alt.X(datum=lx), y=alt.Y(datum=ly))
    )
    layers.append(
        alt.Chart(one).mark_point(
            shape=ARROW, size=400, filled=True, color=RED, opacity=1, strokeWidth=0
        ).encode(x=alt.X(datum=MELT_DAY[k]), y=alt.Y(datum=MELT_TIP[k]))
    )
    if k == 0:
        leg = pd.DataFrame({"depth": DEPTHS, "idx": list(range(len(DEPTHS))), "col": COLORS})
        layers.append(
            alt.Chart(leg).mark_text(
                align="left", baseline="middle", fontSize=13, font=FONT, fontWeight="bold"
            ).transform_calculate(
                ly=f"{LEGEND_TOP} - {LEGEND_STEP} * datum.idx"
            ).encode(
                x=alt.X(datum=LEGEND_X),
                y=alt.Y("ly:Q"),
                text="depth:N",
                color=alt.Color("col:N", scale=None, legend=None),
            )
        )
        layers.append(
            alt.Chart(one).mark_text(
                text="BRW melt date", align="left", baseline="middle",
                fontSize=21, font=FONT, fontWeight="bold", color=RED
            ).encode(x=alt.X(datum=148.6), y=alt.Y(datum=9.4))
        )
    return alt.layer(*layers).properties(width=W, height=H)


chart = alt.vconcat(*[panel(k) for k in range(5)], spacing=0.5).properties(
    padding={"left": 7, "top": 7, "right": 5, "bottom": 0}
).configure_view(
    stroke=INK, strokeWidth=1.5
).configure_axis(
    grid=False, domain=False, tickColor=INK, tickWidth=1.2,
    labelFont=FONT, labelFontWeight="bold", labelColor="#222",
    titleFont=FONT, titleFontWeight="normal", titleColor="#222",
)

chart.save("out.html", embed_options={"renderer": "svg", "actions": False})
